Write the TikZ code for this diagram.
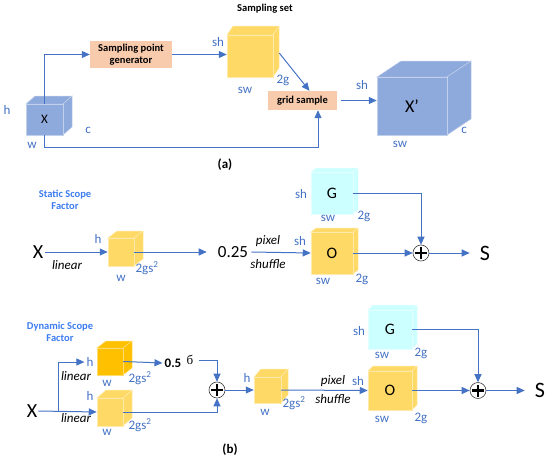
\documentclass[tikz,border=0pt]{standalone}
\usepackage{fontspec}
\setmainfont{Carlito}
\newfontfamily\sigfont{Liberation Serif}
\usetikzlibrary{arrows.meta,positioning}
\definecolor{cubeblue}{HTML}{8EA9DB}
\definecolor{cubeyellow}{HTML}{FFD966}
\definecolor{cubegold}{HTML}{FFC000}
\definecolor{cubecyan}{HTML}{CCFFFF}
\definecolor{peach}{HTML}{F8CBAD}
\definecolor{lineblue}{HTML}{4472C4}
\definecolor{titleblue}{HTML}{3C7CF0}
\tikzset{
  arr/.style={-{Triangle[length=8pt,width=7pt]}, line width=1pt, draw=lineblue},
  lbl/.style={text=lineblue, font=\fontsize{13}{14}\selectfont, inner sep=0pt},
  opbox/.style={fill=peach, font=\bfseries\fontsize{10.5}{12.5}\selectfont, align=center, inner sep=0pt},
  cubeface/.style={inner sep=0pt, font=\fontsize{13}{14}\selectfont},
  ital/.style={font=\itshape\fontsize{13}{14}\selectfont, inner sep=0pt},
  ttl/.style={font=\bfseries\fontsize{10.5}{12.5}\selectfont, align=center, inner sep=0pt},
  bigtxt/.style={font=\fontsize{20}{21}\selectfont, inner sep=0pt},
  oplus/.style={circle, draw=black!75, line width=0.6pt, fill=white, minimum size=16pt, inner sep=0pt,
    path picture={\draw[line width=2.4pt, black]
      ([yshift=-2pt]path picture bounding box.north) -- ([yshift=2pt]path picture bounding box.south)
      ([xshift=2pt]path picture bounding box.west) -- ([xshift=-2pt]path picture bounding box.east);}},
}
\newcommand{\cubenode}[9]{%
  \filldraw[draw=#8!55!white, fill=#8, line width=0.5pt] (#2,#3) -- (#2+#6,#3-#7) -- (#4+#6,#3-#7) -- (#4,#3) -- cycle;
  \filldraw[draw=#8!55!white, fill=#8, line width=0.5pt] (#4,#3) -- (#4+#6,#3-#7) -- (#4+#6,#5-#7) -- (#4,#5) -- cycle;
  \node[cubeface, fill=#8, draw=#8!55!white, line width=0.5pt, minimum width={(#4-#2)*1pt}, minimum height={(#5-#3)*1pt}] (#1) at ({(#2+#4)/2},{(#3+#5)/2}) {#9};
}
\begin{document}
\begin{tikzpicture}[x=1pt, y=-1pt]
  \useasboundingbox (0,0) rectangle (550,463);

  \node[ttl] (sstitle) at (265,9) {Sampling set};
  \cubenode{xa}{26}{104}{63}{135}{9}{8}{cubeblue}{X}
  \node[lbl] (xah) at (7,110) {h};
  \node[lbl] (xac) at (88,130) {c};
  \node[lbl] (xaw) at (32,145) {w};
  \node[opbox, minimum width=82pt, minimum height=27pt] (spg) at (131,54.5) {Sampling point\\generator};
  \cubenode{sset}{227}{35}{273}{77}{6}{9}{cubeyellow}{}
  \node[lbl] (ssh) at (218,42) {sh};
  \node[lbl] (ssw) at (245,90) {sw};
  \node[lbl] (ssg) at (283,80) {2g};
  \node[opbox, minimum width=69pt, minimum height=19pt] (grid) at (302.5,100.5) {grid sample};
  \cubenode{xp}{377}{77}{447}{135}{24}{16}{cubeblue}{\fontsize{18}{19}\selectfont X’}
  \node[lbl] (xph) at (362,85) {sh};
  \node[lbl] (xpw) at (400,144) {sw};
  \node[lbl] (xpc) at (464,130) {c};
  \coordinate (gridin) at (318,147);
  \draw[arr] (xa.north) |- (spg.west);
  \draw[arr] (spg.east) -- (spg.east -| sset.west);
  \draw[arr] ([xshift=6pt,yshift=3pt]sset.east) -- ([xshift=7pt]grid.north);
  \draw[arr] (xa.south) |- (gridin) -- (gridin |- grid.south);
  \draw[arr] ([xshift=4pt]grid.east) -- (grid.east -| xp.west);
  \node[font=\bfseries\fontsize{13}{14}\selectfont] (alabel) at (225,165) {(a)};

  \node[ttl, text=titleblue] (sttl) at (65,200) {Static Scope\\Factor};
  \node[bigtxt] (xs) at (38,252) {X};
  \cubenode{s1}{108}{238}{134}{266}{9}{7}{cubeyellow}{}
  \node[lbl] (s1h) at (98,239) {h};
  \node[lbl] (s1w) at (121,278) {w};
  \node[lbl] (s1g) at (147,268) {2gs\textsuperscript{2}};
  \node[ital] (slin) at (67,265) {linear};
  \node[font=\fontsize{17}{18}\selectfont, inner sep=3pt] (q) at (233,252) {0.25};
  \node[ital] (spx) at (268,241) {pixel};
  \node[ital] (ssf) at (268,264) {shuffle};
  \cubenode{g1}{311}{172}{353}{214}{5}{4}{cubecyan}{\fontsize{16}{17}\selectfont G}
  \node[lbl] (g1h) at (301,194) {sh};
  \node[lbl] (g1w) at (328,218) {sw};
  \node[lbl] (g1g) at (364,216) {2g};
  \cubenode{o1}{311}{232}{353}{274}{5}{4}{cubeyellow}{\fontsize{16}{17}\selectfont O}
  \node[lbl] (o1h) at (300,241) {sh};
  \node[lbl] (o1w) at (323,281) {sw};
  \node[lbl] (o1g) at (362,279) {2g};
  \node[oplus] (p1) at (421,253) {};
  \node[bigtxt, font=\fontsize{22}{23}\selectfont] (S1) at (485,253) {S};
  \draw[arr] ([xshift=2pt]xs.east) -- (s1.west);
  \draw[arr, shorten >=8pt] (s1.east) -- (q.west);
  \draw[arr] (q.east) -- (o1.west);
  \draw[arr] (g1.east) -| (p1.north);
  \draw[arr] (o1.east) -- (p1.west);
  \draw[arr, shorten >=10pt] (p1.east) -- (S1.west);

  \node[ttl, text=titleblue] (dttl) at (60,332) {Dynamic Scope\\Factor};
  \node[bigtxt] (xd) at (32,411) {X};
  \cubenode{d1}{97}{348}{123}{375}{9}{7}{cubegold}{}
  \cubenode{d2}{97}{398}{123}{426}{9}{8}{cubeyellow}{}
  \node[lbl] (hd1) at (90,362) {h};
  \node[lbl] (d1w) at (107,383) {w};
  \node[lbl] (d1g) at (140,378) {2gs\textsuperscript{2}};
  \node[lbl] (hd2) at (90,396) {h};
  \node[lbl] (d2w) at (107,432) {w};
  \node[lbl] (d2g) at (140,425) {2gs\textsuperscript{2}};
  \node[ital] (dlin1) at (76,376) {linear};
  \node[ital] (dlin2) at (76,418) {linear};
  \node[font=\bfseries\fontsize{13}{14}\selectfont, inner sep=2pt] (half) at (173,363) {0.5};
  \node[font=\sigfont\fontsize{13}{14}\selectfont, inner sep=2pt] (sig) at (190,360) {б};
  \node[oplus] (p2) at (217,390) {};
  \cubenode{c3}{254}{377}{281}{403}{7}{8}{cubeyellow}{}
  \node[lbl] (c3h) at (247,378) {h};
  \node[lbl] (c3w) at (265,412) {w};
  \node[lbl] (c3g) at (294,403) {2gs\textsuperscript{2}};
  \node[ital] (dpx) at (333,381) {pixel};
  \node[ital] (dsf) at (333,399) {shuffle};
  \cubenode{g2}{368}{310}{412}{349}{5}{5}{cubecyan}{\fontsize{16}{17}\selectfont G}
  \node[lbl] (g2h) at (359,331) {sh};
  \node[lbl] (g2w) at (382,355) {sw};
  \node[lbl] (g2g) at (421,353) {2g};
  \cubenode{o2}{368}{371}{412}{410}{5}{5}{cubeyellow}{\fontsize{16}{17}\selectfont O}
  \node[lbl] (o2h) at (358,381) {sh};
  \node[lbl] (o2w) at (382,419) {sw};
  \node[lbl] (o2g) at (421,418) {2g};
  \node[oplus] (p3) at (478,390.5) {};
  \node[bigtxt, font=\fontsize{22}{23}\selectfont] (S2) at (540,390.5) {S};
  \coordinate (br) at (58,412);
  \draw[arr] ([xshift=1pt]xd.east) -- (d2.west);
  \draw[arr] (br) |- ([xshift=-2pt]hd1.west);
  \draw[arr] (d1.east) -- (half.west);
  \draw[arr] ([xshift=3pt]sig.east) -| (p2.north);
  \draw[arr] (d2.east) -| (p2.south);
  \draw[arr] (p2.east) -- (c3.west);
  \draw[arr] (c3.east) -- (o2.west);
  \draw[arr] (g2.east) -| (p3.north);
  \draw[arr] (o2.east) -- (p3.west);
  \draw[arr, shorten >=10pt] (p3.east) -- (S2.west);
  \node[font=\bfseries\fontsize{13}{14}\selectfont] (blabel) at (230,450) {(b)};
\end{tikzpicture}
\end{document}
